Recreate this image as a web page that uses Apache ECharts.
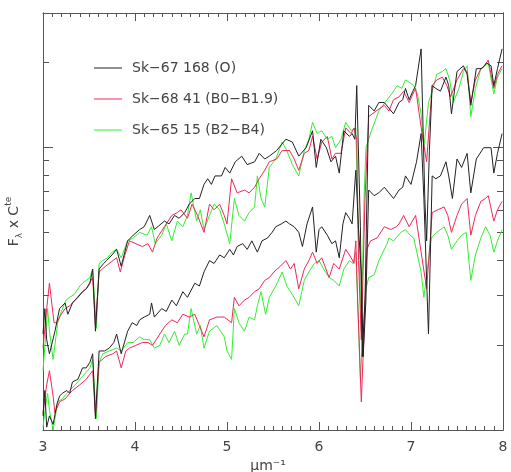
<!DOCTYPE html>
<html>
<head>
<meta charset="utf-8">
<script src="https://cdn.jsdelivr.net/npm/echarts@6/dist/echarts.min.js"></script>
<style>
  html, body { margin: 0; padding: 0; background: #fff; }
  #chart { width: 511px; height: 472px; }
</style>
</head>
<body>
<div id="chart"></div>
<script>
// star names shown in the legend
const starNames = ['Sk\u221267 168 (O)', 'Sk\u221268 41 (B0\u2212B1.9)', 'Sk\u221265 15 (B2\u2212B4)']
const lineColors = ['#222222', '#f0285a', '#33ee33']

// y is log10 of the flux (arbitrary constant), x in inverse microns
// upper set
const blackUpper = [
  [3.00,-0.66],[3.02,-0.57],[3.04,-0.68],[3.07,-0.73],[3.13,-0.65],[3.18,-0.57],[3.24,-0.55],[3.27,-0.59],
  [3.32,-0.55],[3.38,-0.53],[3.43,-0.51],[3.47,-0.50],[3.51,-0.48],[3.54,-0.43],[3.57,-0.65],[3.61,-0.43],
  [3.66,-0.41],[3.69,-0.40],[3.75,-0.38],[3.80,-0.36],[3.85,-0.42],[3.92,-0.33],[3.98,-0.31],[4.05,-0.29],
  [4.10,-0.28],[4.16,-0.24],[4.21,-0.29],[4.32,-0.26],[4.37,-0.27],[4.43,-0.24],[4.48,-0.25],[4.54,-0.23],
  [4.59,-0.20],[4.65,-0.18],[4.70,-0.18],[4.75,-0.13],[4.79,-0.11],[4.83,-0.13],[4.87,-0.10],[4.94,-0.10],
  [4.98,-0.07],[5.03,-0.09],[5.09,-0.05],[5.16,-0.03],[5.22,-0.06],[5.30,-0.05],[5.35,-0.02],[5.41,-0.04],
  [5.46,-0.03],[5.54,-0.01],[5.64,0.03],[5.71,0.02],[5.78,-0.03],[5.86,0.00],[5.93,0.06],[5.97,-0.07],
  [6.02,0.03],[6.08,0.00],[6.13,-0.05],[6.18,-0.03],[6.22,-0.09],[6.27,0.06],[6.33,0.04],[6.36,0.05],
  [6.39,0.03],[6.41,0.22],[6.45,-0.28],[6.47,-0.74],[6.50,-0.54],[6.54,0.15],[6.60,0.13],[6.65,0.16],
  [6.71,0.16],[6.76,0.14],[6.81,0.12],[6.87,0.16],[6.91,0.17],[6.94,0.21],[6.98,0.17],[7.02,0.20],
  [7.05,0.22],[7.11,0.35],[7.15,-0.18],[7.17,-0.33],[7.20,-0.01],[7.23,0.22],[7.27,0.21],[7.32,0.20],
  [7.38,0.25],[7.41,0.22],[7.44,0.12],[7.50,0.27],[7.57,0.29],[7.61,0.26],[7.65,0.15],[7.71,0.28],
  [7.77,0.28],[7.82,0.30],[7.87,0.29],[7.90,0.22],[7.94,0.28],[7.99,0.35]
]
const redUpper = [
  [3.00,-0.71],[3.04,-0.57],[3.07,-0.48],[3.12,-0.62],[3.15,-0.62],[3.18,-0.60],[3.24,-0.57],[3.29,-0.56],
  [3.32,-0.55],[3.40,-0.52],[3.47,-0.50],[3.54,-0.46],[3.57,-0.63],[3.61,-0.44],[3.68,-0.42],[3.76,-0.40],
  [3.80,-0.39],[3.84,-0.44],[3.89,-0.38],[3.94,-0.33],[4.01,-0.34],[4.08,-0.35],[4.14,-0.34],[4.19,-0.37],
  [4.24,-0.32],[4.32,-0.28],[4.40,-0.24],[4.46,-0.23],[4.50,-0.22],[4.57,-0.25],[4.62,-0.20],[4.68,-0.24],
  [4.75,-0.30],[4.81,-0.20],[4.86,-0.22],[4.92,-0.20],[4.97,-0.24],[5.00,-0.27],[5.05,-0.11],[5.11,-0.16],
  [5.19,-0.15],[5.24,-0.16],[5.30,-0.14],[5.35,-0.11],[5.41,-0.08],[5.46,-0.05],[5.54,-0.04],[5.60,-0.01],
  [5.68,-0.01],[5.73,-0.04],[5.78,-0.08],[5.84,-0.02],[5.89,-0.01],[5.93,0.04],[5.98,-0.04],[6.03,0.02],
  [6.09,0.04],[6.14,-0.04],[6.18,-0.02],[6.24,-0.02],[6.29,0.07],[6.35,0.05],[6.38,0.07],[6.41,0.03],
  [6.43,-0.40],[6.46,-0.68],[6.50,-0.18],[6.54,0.11],[6.62,0.13],[6.71,0.15],[6.76,0.13],[6.81,0.17],
  [6.87,0.18],[6.92,0.20],[6.98,0.16],[7.02,0.19],[7.05,0.21],[7.12,0.05],[7.17,-0.05],[7.23,0.22],
  [7.28,0.24],[7.34,0.25],[7.39,0.22],[7.43,0.18],[7.50,0.24],[7.57,0.28],[7.61,0.27],[7.65,0.16],
  [7.70,0.24],[7.76,0.28],[7.80,0.29],[7.84,0.31],[7.90,0.21],[7.94,0.26],[7.99,0.29]
]
const greenUpper = [
  [3.00,-0.79],[3.03,-0.66],[3.05,-0.57],[3.07,-0.65],[3.11,-0.75],[3.16,-0.62],[3.20,-0.58],[3.25,-0.54],
  [3.29,-0.53],[3.34,-0.52],[3.40,-0.49],[3.43,-0.48],[3.51,-0.46],[3.54,-0.43],[3.58,-0.64],[3.61,-0.41],
  [3.65,-0.40],[3.70,-0.39],[3.75,-0.37],[3.80,-0.36],[3.85,-0.39],[3.92,-0.33],[3.98,-0.32],[4.05,-0.30],
  [4.13,-0.31],[4.18,-0.28],[4.22,-0.34],[4.29,-0.31],[4.34,-0.27],[4.40,-0.33],[4.46,-0.26],[4.52,-0.28],
  [4.57,-0.24],[4.61,-0.16],[4.67,-0.26],[4.71,-0.22],[4.75,-0.29],[4.81,-0.24],[4.86,-0.20],[4.92,-0.22],
  [4.97,-0.27],[5.03,-0.34],[5.08,-0.18],[5.13,-0.24],[5.19,-0.26],[5.24,-0.23],[5.30,-0.21],[5.33,-0.10],
  [5.37,-0.18],[5.41,-0.21],[5.46,-0.07],[5.53,-0.04],[5.60,0.02],[5.65,-0.01],[5.71,-0.06],[5.78,-0.10],
  [5.84,-0.01],[5.89,0.03],[5.93,0.09],[5.98,0.05],[6.03,0.06],[6.09,0.03],[6.14,0.04],[6.18,0.00],
  [6.24,0.03],[6.29,0.09],[6.35,0.06],[6.40,0.07],[6.43,-0.33],[6.46,-0.65],[6.49,-0.18],[6.51,0.00],
  [6.57,0.06],[6.65,0.13],[6.74,0.17],[6.79,0.19],[6.85,0.22],[6.90,0.21],[6.94,0.24],[6.99,0.23],
  [7.03,0.22],[7.07,0.19],[7.11,0.12],[7.14,0.00],[7.19,0.16],[7.24,0.21],[7.28,0.26],[7.34,0.27],
  [7.38,0.28],[7.42,0.24],[7.46,0.16],[7.52,0.21],[7.57,0.27],[7.61,0.29],[7.65,0.11],[7.70,0.21],
  [7.76,0.28],[7.80,0.29],[7.84,0.30],[7.90,0.19],[7.94,0.25],[7.99,0.28]
]
// lower set
const blackLower = [
  [3.00,-0.95],[3.02,-0.86],[3.04,-0.99],[3.07,-0.95],[3.11,-0.98],[3.15,-0.91],[3.18,-0.88],[3.21,-0.87],
  [3.26,-0.86],[3.29,-0.87],[3.32,-0.83],[3.38,-0.82],[3.43,-0.78],[3.47,-0.78],[3.51,-0.76],[3.54,-0.73],
  [3.57,-0.96],[3.61,-0.72],[3.67,-0.72],[3.72,-0.71],[3.77,-0.69],[3.80,-0.66],[3.85,-0.73],[3.92,-0.65],
  [3.97,-0.62],[4.02,-0.63],[4.05,-0.61],[4.10,-0.60],[4.16,-0.59],[4.18,-0.55],[4.21,-0.60],[4.29,-0.57],
  [4.34,-0.58],[4.40,-0.54],[4.45,-0.56],[4.52,-0.51],[4.57,-0.53],[4.65,-0.48],[4.70,-0.49],[4.75,-0.44],
  [4.81,-0.40],[4.86,-0.41],[4.92,-0.38],[4.97,-0.39],[5.03,-0.36],[5.07,-0.38],[5.11,-0.35],[5.17,-0.34],
  [5.22,-0.36],[5.27,-0.33],[5.33,-0.37],[5.38,-0.33],[5.44,-0.32],[5.49,-0.30],[5.53,-0.28],[5.59,-0.27],
  [5.64,-0.26],[5.68,-0.27],[5.73,-0.28],[5.78,-0.30],[5.82,-0.35],[5.87,-0.27],[5.93,-0.21],[5.97,-0.37],
  [6.00,-0.29],[6.03,-0.28],[6.09,-0.31],[6.14,-0.34],[6.18,-0.33],[6.22,-0.39],[6.26,-0.27],[6.29,-0.23],
  [6.33,-0.25],[6.36,-0.27],[6.40,-0.08],[6.43,-0.29],[6.46,-0.44],[6.48,-0.74],[6.51,-0.54],[6.54,-0.15],
  [6.60,-0.17],[6.65,-0.16],[6.71,-0.14],[6.76,-0.16],[6.81,-0.18],[6.87,-0.15],[6.91,-0.14],[6.94,-0.10],
  [7.00,-0.13],[7.06,-0.05],[7.11,0.05],[7.14,-0.18],[7.17,-0.47],[7.19,-0.66],[7.23,-0.10],[7.27,-0.11],
  [7.32,-0.10],[7.38,-0.05],[7.41,-0.10],[7.45,-0.18],[7.50,-0.04],[7.55,-0.07],[7.61,-0.02],[7.65,-0.16],
  [7.71,-0.04],[7.79,0.00],[7.87,0.00],[7.90,-0.09],[7.94,-0.02],[7.99,0.05]
]
const redLower = [
  [3.00,-0.94],[3.04,-0.84],[3.07,-0.79],[3.11,-0.88],[3.13,-0.94],[3.18,-0.90],[3.24,-0.89],[3.29,-0.87],
  [3.32,-0.86],[3.40,-0.84],[3.47,-0.82],[3.54,-0.79],[3.57,-0.95],[3.61,-0.76],[3.68,-0.74],[3.76,-0.73],
  [3.80,-0.72],[3.85,-0.78],[3.90,-0.72],[3.94,-0.71],[4.01,-0.70],[4.08,-0.69],[4.14,-0.69],[4.19,-0.70],
  [4.27,-0.66],[4.33,-0.63],[4.40,-0.61],[4.46,-0.62],[4.52,-0.59],[4.59,-0.60],[4.65,-0.59],[4.70,-0.63],
  [4.75,-0.67],[4.81,-0.61],[4.89,-0.60],[4.97,-0.60],[5.05,-0.62],[5.08,-0.53],[5.13,-0.56],[5.19,-0.54],
  [5.24,-0.53],[5.30,-0.51],[5.35,-0.50],[5.41,-0.47],[5.46,-0.46],[5.51,-0.44],[5.58,-0.42],[5.64,-0.40],
  [5.69,-0.43],[5.73,-0.41],[5.78,-0.50],[5.84,-0.43],[5.89,-0.40],[5.93,-0.37],[5.98,-0.41],[6.03,-0.39],
  [6.11,-0.46],[6.16,-0.41],[6.22,-0.43],[6.29,-0.36],[6.35,-0.39],[6.38,-0.41],[6.40,-0.33],[6.42,-0.54],
  [6.46,-0.90],[6.49,-0.65],[6.52,-0.36],[6.56,-0.33],[6.63,-0.32],[6.71,-0.28],[6.78,-0.29],[6.84,-0.28],
  [6.87,-0.27],[6.92,-0.24],[6.98,-0.28],[7.05,-0.24],[7.11,-0.37],[7.17,-0.50],[7.23,-0.23],[7.29,-0.22],
  [7.36,-0.21],[7.40,-0.24],[7.44,-0.30],[7.50,-0.24],[7.55,-0.20],[7.61,-0.18],[7.65,-0.31],[7.70,-0.24],
  [7.76,-0.19],[7.81,-0.18],[7.84,-0.17],[7.90,-0.26],[7.94,-0.22],[7.99,-0.19]
]
const greenLower = [
  [3.00,-0.99],[3.03,-0.91],[3.05,-0.87],[3.07,-0.93],[3.11,-1.00],[3.16,-0.90],[3.21,-0.89],[3.26,-0.87],
  [3.29,-0.86],[3.35,-0.84],[3.43,-0.81],[3.51,-0.78],[3.54,-0.75],[3.58,-0.96],[3.61,-0.76],[3.65,-0.73],
  [3.72,-0.72],[3.80,-0.71],[3.85,-0.72],[3.92,-0.69],[3.98,-0.69],[4.05,-0.67],[4.10,-0.68],[4.16,-0.68],
  [4.21,-0.71],[4.27,-0.70],[4.32,-0.66],[4.37,-0.69],[4.43,-0.65],[4.48,-0.70],[4.54,-0.66],[4.57,-0.66],
  [4.61,-0.57],[4.67,-0.66],[4.71,-0.63],[4.75,-0.71],[4.81,-0.65],[4.89,-0.63],[4.97,-0.67],[5.00,-0.72],
  [5.05,-0.75],[5.08,-0.57],[5.13,-0.62],[5.19,-0.65],[5.24,-0.60],[5.30,-0.61],[5.33,-0.56],[5.37,-0.51],
  [5.42,-0.59],[5.46,-0.53],[5.53,-0.49],[5.60,-0.44],[5.65,-0.49],[5.71,-0.52],[5.78,-0.56],[5.84,-0.47],
  [5.89,-0.44],[5.95,-0.41],[6.00,-0.40],[6.05,-0.43],[6.11,-0.46],[6.16,-0.47],[6.22,-0.49],[6.27,-0.43],
  [6.33,-0.40],[6.37,-0.41],[6.40,-0.37],[6.42,-0.54],[6.45,-0.82],[6.48,-0.65],[6.51,-0.50],[6.54,-0.46],
  [6.60,-0.45],[6.65,-0.40],[6.74,-0.34],[6.76,-0.32],[6.81,-0.33],[6.89,-0.30],[6.94,-0.29],[6.99,-0.31],
  [7.03,-0.32],[7.11,-0.44],[7.14,-0.53],[7.22,-0.32],[7.28,-0.30],[7.36,-0.28],[7.40,-0.31],[7.44,-0.36],
  [7.50,-0.33],[7.55,-0.31],[7.60,-0.30],[7.65,-0.47],[7.70,-0.38],[7.76,-0.32],[7.81,-0.28],[7.86,-0.31],
  [7.90,-0.37],[7.94,-0.33],[7.99,-0.29]
]

// axis ranges and tick marks (flux in units of the constant)
const xRange = [3, 8]
const fluxRange = [0.1, 3]
const minorTickFlux = [0.2, 0.3, 0.4, 0.5, 0.6, 0.7, 0.8, 0.9, 2]
const majorTickFlux = [1]

const frameColor = '#555'
const textColor = '#444'
const fontFamily = 'DejaVu Sans'

const yMin = Math.log10(fluxRange[0])
const yMax = Math.log10(fluxRange[1])

const chart = echarts.init(document.getElementById('chart'), null, { renderer: 'canvas' })

const xAxisBase = (pos) => ({
  type: 'value',
  position: pos,
  min: xRange[0],
  max: xRange[1],
  interval: 1,
  axisLine: { show: true, onZero: false, lineStyle: { color: frameColor, width: 1 } },
  axisTick: { show: true, inside: true, length: 8, lineStyle: { color: frameColor } },
  minorTick: { show: true, splitNumber: 10, length: 4, lineStyle: { color: frameColor } },
  splitLine: { show: false },
  axisLabel: {
    show: pos === 'bottom',
    margin: 10,
    fontSize: 14,
    color: textColor,
    fontFamily: fontFamily
  }
})

const yAxisBase = (pos, ticks, len) => ({
  type: 'value',
  position: pos,
  min: yMin,
  max: yMax,
  axisLine: { show: true, onZero: false, lineStyle: { color: frameColor, width: 1 } },
  axisTick: {
    show: true,
    inside: true,
    length: len,
    customValues: ticks.map(v => Math.log10(v)),
    lineStyle: { color: frameColor }
  },
  axisLabel: { show: false },
  splitLine: { show: false }
})

const yLeft = yAxisBase('left', minorTickFlux, 6)
yLeft.name = '{b|F}{sub|\u03bb}{b| x C}{sup|te}'
yLeft.nameLocation = 'middle'
yLeft.nameRotate = 90
yLeft.nameGap = 19
yLeft.nameTextStyle = {
  color: textColor,
  fontFamily: fontFamily,
  rich: {
    b: { fontSize: 14, lineHeight: 20, color: textColor, fontFamily: fontFamily },
    sub: { fontSize: 9, lineHeight: 9, verticalAlign: 'bottom', color: textColor, fontFamily: fontFamily },
    sup: { fontSize: 9, lineHeight: 9, verticalAlign: 'top', color: textColor, fontFamily: fontFamily }
  }
}

const xBottom = xAxisBase('bottom')
xBottom.name = '\u03bcm\u207b\u00b9'
xBottom.nameLocation = 'middle'
xBottom.nameGap = 25
xBottom.nameTextStyle = { fontSize: 14, color: textColor, fontFamily: fontFamily, padding: [0, 10, 0, 0] }

const groups = [
  [blackUpper, redUpper, greenUpper],
  [blackLower, redLower, greenLower]
]

const series = []
groups.forEach(group => {
  group.forEach((data, i) => {
    series.push({
      name: starNames[i],
      type: 'line',
      data: data,
      showSymbol: false,
      symbol: 'none',
      clip: true,
      lineStyle: { width: 1, color: lineColors[i] },
      itemStyle: { color: lineColors[i] },
      emphasis: { disabled: true },
      z: 3 - i
    })
  })
})

const option = {
  animation: false,
  backgroundColor: '#fff',
  grid: { left: 43, right: 8, top: 13, bottom: 42, containLabel: false, outerBoundsMode: 'none' },
  legend: {
    data: starNames,
    orient: 'vertical',
    left: 89,
    top: 56,
    icon: 'rect',
    itemWidth: 28,
    itemHeight: 1,
    itemGap: 17,
    selectedMode: false,
    textStyle: {
      fontSize: 14,
      lineHeight: 14,
      color: textColor,
      fontFamily: fontFamily,
      padding: [0, 0, 0, 5]
    }
  },
  xAxis: [xBottom, xAxisBase('top')],
  yAxis: [
    yLeft,
    yAxisBase('left', majorTickFlux, 10),
    yAxisBase('right', minorTickFlux, 6),
    yAxisBase('right', majorTickFlux, 10)
  ],
  series: series
}

chart.setOption(option)
</script>
</body>
</html>
